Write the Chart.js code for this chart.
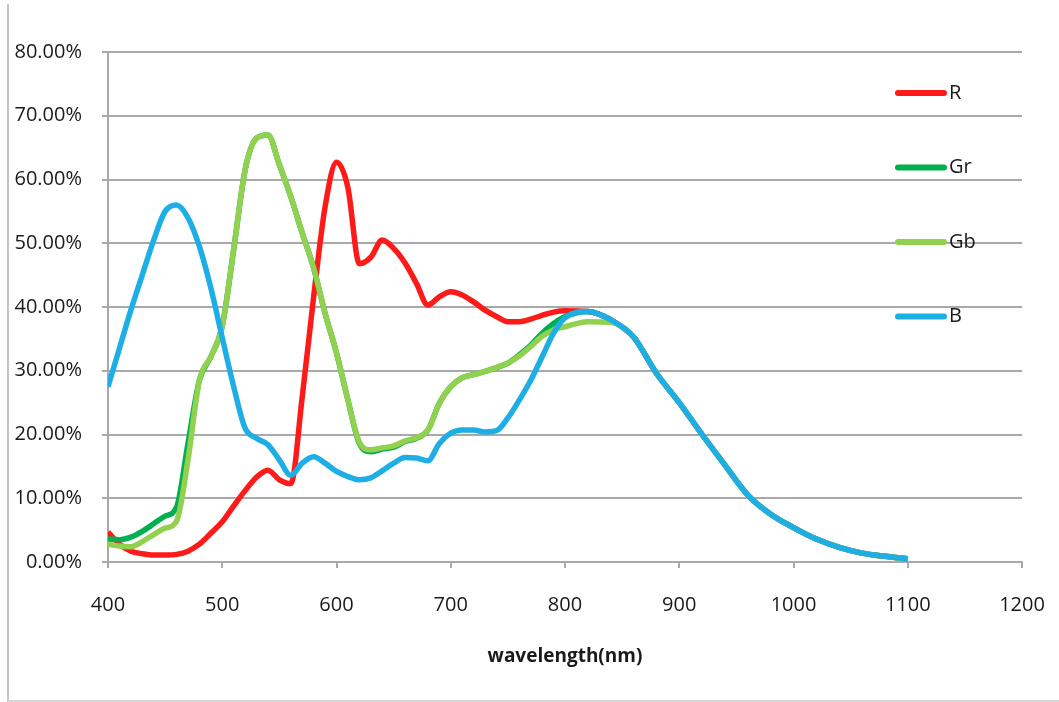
<!DOCTYPE html>
<html>
<head>
<meta charset="utf-8">
<script src="https://cdn.jsdelivr.net/npm/chart.js@4.4.1/dist/chart.umd.min.js"></script>
<style>
  html, body { margin: 0; padding: 0; background: #fff; }
  #wrap { position: relative; width: 1059px; height: 702px; }
  #frame {
    position: absolute; left: 7px; top: 4px; width: 1052px; height: 696px;
    border-left: 2px solid #c4c4c4; border-bottom: 2px solid #d4d4d4;
  }
  canvas { position: absolute; left: 0; top: 0; }
</style>
</head>
<body>
<div id="wrap">
  <div id="frame"></div>
  <canvas id="myChart" width="1059" height="702"></canvas>
</div>
<script>
const ctx = document.getElementById("myChart");

// wavelength in nm
const wavelengths = [400, 410, 420, 430, 440, 450, 460, 470, 480, 490,
  500, 510, 520, 530, 540, 550, 560, 570, 580, 590,
  600, 610, 620, 630, 640, 650, 660, 670, 680, 690,
  700, 710, 720, 730, 740, 750, 760, 770, 780, 790,
  800, 820, 840, 860, 880, 900, 920, 940, 960, 980,
  1000, 1020, 1040, 1060, 1080, 1100];

// quantum efficiency in %
const seriesR = [4.7, 2.8, 1.7, 1.3, 1.1, 1.1, 1.2, 1.7, 2.8, 4.5,
  6.3, 8.8, 11.2, 13.3, 14.4, 12.9, 12.3, 25.9, 41.6, 55.7,
  62.7, 58.7, 46.8, 47.8, 50.5, 49.2, 46.9, 43.7, 40.3, 41.6,
  42.4, 41.9, 40.8, 39.5, 38.5, 37.7, 37.7, 38.1, 38.7, 39.2,
  39.4, 39.3, 38.0, 35.3, 29.6, 25.0, 20.0, 15.2, 10.5, 7.5,
  5.4, 3.6, 2.3, 1.4, 0.9, 0.5];

const seriesGr = [3.6, 3.5, 3.9, 4.8, 6.0, 7.2, 8.6, 18.6, 28.5, 32.2,
  37.0, 49.0, 61.5, 66.5, 67.0, 62.3, 57.3, 51.6, 46.1, 39.0,
  32.8, 25.4, 18.6, 17.3, 17.7, 18.0, 18.9, 19.4, 20.7, 24.9,
  27.5, 28.9, 29.4, 29.9, 30.5, 31.2, 32.5, 34.0, 35.9, 37.4,
  38.5, 39.3, 38.0, 35.3, 29.6, 25.0, 20.0, 15.2, 10.5, 7.5,
  5.4, 3.6, 2.3, 1.4, 0.9, 0.5];

const seriesGb = [2.8, 2.5, 2.4, 3.2, 4.3, 5.3, 6.4, 16.0, 28.5, 32.2,
  37.0, 49.0, 61.5, 66.5, 67.0, 62.3, 57.3, 51.6, 46.1, 39.0,
  32.8, 25.4, 18.8, 17.6, 17.9, 18.2, 19.0, 19.5, 20.7, 24.9,
  27.5, 28.9, 29.4, 29.9, 30.5, 31.2, 32.3, 33.8, 35.4, 36.4,
  36.9, 37.7, 37.6, 35.3, 29.6, 25.0, 20.0, 15.2, 10.5, 7.5,
  5.4, 3.6, 2.3, 1.4, 0.9, 0.5];

const seriesB = [27.5, 33.5, 39.5, 45.0, 50.5, 55.0, 56.0, 54.0, 49.5, 43.0,
  35.2, 27.5, 21.0, 19.4, 18.4, 16.0, 13.6, 15.5, 16.5, 15.5,
  14.2, 13.4, 12.9, 13.2, 14.3, 15.5, 16.4, 16.3, 15.9, 18.6,
  20.2, 20.7, 20.7, 20.4, 20.6, 22.6, 25.4, 28.5, 32.2, 35.9,
  38.3, 39.3, 38.0, 35.3, 29.6, 25.0, 20.0, 15.2, 10.5, 7.5,
  5.4, 3.6, 2.3, 1.4, 0.9, 0.5];

const seriesNames = ["R", "Gr", "Gb", "B"];
const seriesColors = ["#ff1a1a", "#00b050", "#92d050", "#1eaee6"];
const xTicks = [400, 500, 600, 700, 800, 900, 1000, 1100, 1200];

const textColor = "#1a1a1a";
const gridColor = "#a9a9a9";
const fontFamily = "'Open Sans', 'DejaVu Sans', sans-serif";

function toPoints(values) {
    return wavelengths.map((w, i) => ({ x: w, y: values[i] }));
}

function makeDataset(i, values) {
    return {
        label: seriesNames[i],
        data: toPoints(values),
        borderColor: seriesColors[i],
        backgroundColor: seriesColors[i],
        borderWidth: 5.5,
        pointRadius: 0,
        cubicInterpolationMode: "monotone",
        fill: false,
        // B drawn last, R first
        order: 4 - i,
    };
}

// legend drawn inside the plot, like the original
const sideLegend = {
    id: "sideLegend",
    afterDatasetsDraw(chart) {
        const c = chart.ctx;
        c.save();
        c.font = "20px " + fontFamily;
        c.textBaseline = "middle";
        c.fillStyle = textColor;
        chart.data.datasets.forEach((ds, i) => {
            const y = 93 + i * 74.5;
            c.strokeStyle = ds.borderColor;
            c.lineWidth = 6;
            c.lineCap = "round";
            c.beginPath();
            c.moveTo(898, y);
            c.lineTo(944, y);
            c.stroke();
            c.fillText(ds.label, 949, y);
        });
        c.restore();
    },
};

const config = {
    type: "line",
    data: {
        datasets: [
            makeDataset(0, seriesR),
            makeDataset(1, seriesGr),
            makeDataset(2, seriesGb),
            makeDataset(3, seriesB),
        ],
    },
    options: {
        responsive: false,
        animation: false,
        layout: { padding: { top: 52, right: 37, bottom: 30, left: 0 } },
        plugins: {
            legend: { display: false },
            tooltip: { enabled: false },
        },
        scales: {
            x: {
                type: "linear",
                min: 400,
                max: 1200,
                afterFit: (scale) => {
                    scale.height = 110;
                    scale.paddingLeft = 20;
                    scale.paddingRight = 20;
                },
                afterBuildTicks: (scale) => { scale.ticks = xTicks.map((v) => ({ value: v })); },
                grid: {
                    drawOnChartArea: false,
                    drawTicks: true,
                    tickLength: 6,
                    color: gridColor,
                    lineWidth: 2,
                },
                border: { display: true, color: gridColor, width: 2 },
                ticks: {
                    color: textColor,
                    font: { family: fontFamily, size: 20 },
                    padding: 25,
                    maxRotation: 0,
                    callback: (v) => String(v),
                },
                title: {
                    display: true,
                    text: "wavelength(nm)",
                    color: textColor,
                    font: { family: fontFamily, size: 19, weight: "bold" },
                },
            },
            y: {
                min: 0,
                max: 80,
                afterFit: (scale) => { scale.width = 108; },
                grid: {
                    color: gridColor,
                    lineWidth: 2,
                    tickLength: 6,
                },
                border: { display: true, color: gridColor, width: 2 },
                ticks: {
                    stepSize: 10,
                    color: textColor,
                    font: { family: fontFamily, size: 20 },
                    padding: 20,
                    callback: (v) => v.toFixed(2) + "%",
                },
            },
        },
    },
    plugins: [sideLegend],
};

const myChart = new Chart(ctx, config);
</script>
</body>
</html>
